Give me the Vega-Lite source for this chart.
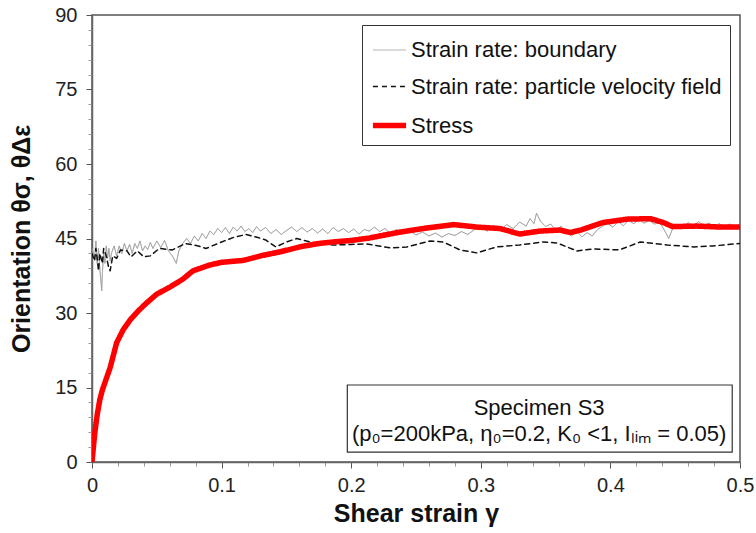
{
  "$schema": "https://vega.github.io/schema/vega-lite/v6.json",
  "width": 648,
  "height": 447,
  "autosize": {"type": "none"},
  "padding": {"left": 92, "top": 15, "right": 16, "bottom": 71},
  "background": "white",
  "config": {
    "font": "Liberation Sans",
    "view": {"stroke": "#555555", "strokeWidth": 1.5},
    "axis": {"grid": false, "domainColor": "#666666", "tickColor": "#777777", "labelColor": "#222222", "titleColor": "#111111"}
  },
  "datasets": {
    "series": [
      {"g": "Strain rate: boundary", "s": 0, "v": 43},
      {"g": "Strain rate: boundary", "s": 0.002, "v": 41},
      {"g": "Strain rate: boundary", "s": 0.003, "v": 44.5},
      {"g": "Strain rate: boundary", "s": 0.004, "v": 40},
      {"g": "Strain rate: boundary", "s": 0.005, "v": 43},
      {"g": "Strain rate: boundary", "s": 0.006, "v": 39},
      {"g": "Strain rate: boundary", "s": 0.007, "v": 36},
      {"g": "Strain rate: boundary", "s": 0.0075, "v": 34.5},
      {"g": "Strain rate: boundary", "s": 0.008, "v": 38},
      {"g": "Strain rate: boundary", "s": 0.009, "v": 42},
      {"g": "Strain rate: boundary", "s": 0.010, "v": 40},
      {"g": "Strain rate: boundary", "s": 0.011, "v": 43.5},
      {"g": "Strain rate: boundary", "s": 0.012, "v": 41},
      {"g": "Strain rate: boundary", "s": 0.013, "v": 43},
      {"g": "Strain rate: boundary", "s": 0.014, "v": 40.5},
      {"g": "Strain rate: boundary", "s": 0.015, "v": 42},
      {"g": "Strain rate: boundary", "s": 0.017, "v": 43.5},
      {"g": "Strain rate: boundary", "s": 0.019, "v": 41.5},
      {"g": "Strain rate: boundary", "s": 0.021, "v": 43.5},
      {"g": "Strain rate: boundary", "s": 0.023, "v": 42},
      {"g": "Strain rate: boundary", "s": 0.025, "v": 44},
      {"g": "Strain rate: boundary", "s": 0.027, "v": 42.5},
      {"g": "Strain rate: boundary", "s": 0.029, "v": 43.8},
      {"g": "Strain rate: boundary", "s": 0.031, "v": 42},
      {"g": "Strain rate: boundary", "s": 0.033, "v": 44},
      {"g": "Strain rate: boundary", "s": 0.035, "v": 43},
      {"g": "Strain rate: boundary", "s": 0.037, "v": 44.5},
      {"g": "Strain rate: boundary", "s": 0.039, "v": 42.5},
      {"g": "Strain rate: boundary", "s": 0.041, "v": 43.5},
      {"g": "Strain rate: boundary", "s": 0.043, "v": 42.8},
      {"g": "Strain rate: boundary", "s": 0.045, "v": 44.2},
      {"g": "Strain rate: boundary", "s": 0.047, "v": 43},
      {"g": "Strain rate: boundary", "s": 0.05, "v": 44.5},
      {"g": "Strain rate: boundary", "s": 0.053, "v": 43.2},
      {"g": "Strain rate: boundary", "s": 0.056, "v": 44.6},
      {"g": "Strain rate: boundary", "s": 0.059, "v": 42.5},
      {"g": "Strain rate: boundary", "s": 0.062, "v": 41.5},
      {"g": "Strain rate: boundary", "s": 0.065, "v": 40},
      {"g": "Strain rate: boundary", "s": 0.067, "v": 42.5},
      {"g": "Strain rate: boundary", "s": 0.07, "v": 44},
      {"g": "Strain rate: boundary", "s": 0.073, "v": 45},
      {"g": "Strain rate: boundary", "s": 0.076, "v": 44},
      {"g": "Strain rate: boundary", "s": 0.079, "v": 45.5},
      {"g": "Strain rate: boundary", "s": 0.082, "v": 44.5},
      {"g": "Strain rate: boundary", "s": 0.085, "v": 46},
      {"g": "Strain rate: boundary", "s": 0.088, "v": 45},
      {"g": "Strain rate: boundary", "s": 0.091, "v": 46.5},
      {"g": "Strain rate: boundary", "s": 0.094, "v": 45.8},
      {"g": "Strain rate: boundary", "s": 0.097, "v": 47},
      {"g": "Strain rate: boundary", "s": 0.1, "v": 46.2},
      {"g": "Strain rate: boundary", "s": 0.103, "v": 47.2},
      {"g": "Strain rate: boundary", "s": 0.106, "v": 46},
      {"g": "Strain rate: boundary", "s": 0.109, "v": 47.3},
      {"g": "Strain rate: boundary", "s": 0.112, "v": 46.5},
      {"g": "Strain rate: boundary", "s": 0.115, "v": 47.5},
      {"g": "Strain rate: boundary", "s": 0.118, "v": 46.4},
      {"g": "Strain rate: boundary", "s": 0.121, "v": 47},
      {"g": "Strain rate: boundary", "s": 0.124, "v": 46.2},
      {"g": "Strain rate: boundary", "s": 0.127, "v": 47.4},
      {"g": "Strain rate: boundary", "s": 0.13, "v": 46.5},
      {"g": "Strain rate: boundary", "s": 0.134, "v": 47.2},
      {"g": "Strain rate: boundary", "s": 0.138, "v": 46},
      {"g": "Strain rate: boundary", "s": 0.142, "v": 46.8},
      {"g": "Strain rate: boundary", "s": 0.146, "v": 45.8},
      {"g": "Strain rate: boundary", "s": 0.15, "v": 46.6},
      {"g": "Strain rate: boundary", "s": 0.154, "v": 47.3},
      {"g": "Strain rate: boundary", "s": 0.158, "v": 46.4},
      {"g": "Strain rate: boundary", "s": 0.162, "v": 47.2},
      {"g": "Strain rate: boundary", "s": 0.166, "v": 46.3},
      {"g": "Strain rate: boundary", "s": 0.17, "v": 47},
      {"g": "Strain rate: boundary", "s": 0.174, "v": 46.1},
      {"g": "Strain rate: boundary", "s": 0.178, "v": 46.9},
      {"g": "Strain rate: boundary", "s": 0.182, "v": 46},
      {"g": "Strain rate: boundary", "s": 0.186, "v": 47.2},
      {"g": "Strain rate: boundary", "s": 0.19, "v": 46.4},
      {"g": "Strain rate: boundary", "s": 0.194, "v": 47},
      {"g": "Strain rate: boundary", "s": 0.198, "v": 46.2},
      {"g": "Strain rate: boundary", "s": 0.202, "v": 46.9},
      {"g": "Strain rate: boundary", "s": 0.206, "v": 45.9},
      {"g": "Strain rate: boundary", "s": 0.21, "v": 46.8},
      {"g": "Strain rate: boundary", "s": 0.214, "v": 46.5},
      {"g": "Strain rate: boundary", "s": 0.218, "v": 47.3},
      {"g": "Strain rate: boundary", "s": 0.222, "v": 46.4},
      {"g": "Strain rate: boundary", "s": 0.226, "v": 47},
      {"g": "Strain rate: boundary", "s": 0.23, "v": 46.1},
      {"g": "Strain rate: boundary", "s": 0.235, "v": 46.8},
      {"g": "Strain rate: boundary", "s": 0.24, "v": 46},
      {"g": "Strain rate: boundary", "s": 0.245, "v": 46.6},
      {"g": "Strain rate: boundary", "s": 0.25, "v": 45.7},
      {"g": "Strain rate: boundary", "s": 0.255, "v": 46.3},
      {"g": "Strain rate: boundary", "s": 0.26, "v": 45.5},
      {"g": "Strain rate: boundary", "s": 0.265, "v": 46.1},
      {"g": "Strain rate: boundary", "s": 0.27, "v": 45.3},
      {"g": "Strain rate: boundary", "s": 0.275, "v": 46},
      {"g": "Strain rate: boundary", "s": 0.28, "v": 45.6},
      {"g": "Strain rate: boundary", "s": 0.285, "v": 46.4},
      {"g": "Strain rate: boundary", "s": 0.29, "v": 45.8},
      {"g": "Strain rate: boundary", "s": 0.295, "v": 46.8},
      {"g": "Strain rate: boundary", "s": 0.3, "v": 47.2},
      {"g": "Strain rate: boundary", "s": 0.305, "v": 46.5},
      {"g": "Strain rate: boundary", "s": 0.31, "v": 47.6},
      {"g": "Strain rate: boundary", "s": 0.315, "v": 46.8},
      {"g": "Strain rate: boundary", "s": 0.32, "v": 47.8},
      {"g": "Strain rate: boundary", "s": 0.325, "v": 47},
      {"g": "Strain rate: boundary", "s": 0.33, "v": 48.3},
      {"g": "Strain rate: boundary", "s": 0.335, "v": 47.5},
      {"g": "Strain rate: boundary", "s": 0.338, "v": 49},
      {"g": "Strain rate: boundary", "s": 0.341, "v": 48},
      {"g": "Strain rate: boundary", "s": 0.343, "v": 50.1},
      {"g": "Strain rate: boundary", "s": 0.346, "v": 48.5},
      {"g": "Strain rate: boundary", "s": 0.35, "v": 47.4},
      {"g": "Strain rate: boundary", "s": 0.354, "v": 47.9},
      {"g": "Strain rate: boundary", "s": 0.358, "v": 46.5},
      {"g": "Strain rate: boundary", "s": 0.362, "v": 47.5},
      {"g": "Strain rate: boundary", "s": 0.366, "v": 46.3},
      {"g": "Strain rate: boundary", "s": 0.37, "v": 45.5},
      {"g": "Strain rate: boundary", "s": 0.374, "v": 46.5},
      {"g": "Strain rate: boundary", "s": 0.378, "v": 45.3},
      {"g": "Strain rate: boundary", "s": 0.382, "v": 46.2},
      {"g": "Strain rate: boundary", "s": 0.386, "v": 45.5},
      {"g": "Strain rate: boundary", "s": 0.39, "v": 46.8},
      {"g": "Strain rate: boundary", "s": 0.394, "v": 47.5},
      {"g": "Strain rate: boundary", "s": 0.398, "v": 48},
      {"g": "Strain rate: boundary", "s": 0.402, "v": 47.3},
      {"g": "Strain rate: boundary", "s": 0.406, "v": 48.4},
      {"g": "Strain rate: boundary", "s": 0.41, "v": 47.6},
      {"g": "Strain rate: boundary", "s": 0.414, "v": 48.6},
      {"g": "Strain rate: boundary", "s": 0.418, "v": 48},
      {"g": "Strain rate: boundary", "s": 0.422, "v": 48.8},
      {"g": "Strain rate: boundary", "s": 0.426, "v": 48.1},
      {"g": "Strain rate: boundary", "s": 0.43, "v": 48.6},
      {"g": "Strain rate: boundary", "s": 0.434, "v": 47.9},
      {"g": "Strain rate: boundary", "s": 0.438, "v": 48.3},
      {"g": "Strain rate: boundary", "s": 0.442, "v": 46.5},
      {"g": "Strain rate: boundary", "s": 0.445, "v": 45},
      {"g": "Strain rate: boundary", "s": 0.448, "v": 47},
      {"g": "Strain rate: boundary", "s": 0.452, "v": 47.8},
      {"g": "Strain rate: boundary", "s": 0.456, "v": 47.3},
      {"g": "Strain rate: boundary", "s": 0.46, "v": 48.2},
      {"g": "Strain rate: boundary", "s": 0.464, "v": 47.5},
      {"g": "Strain rate: boundary", "s": 0.468, "v": 48.4},
      {"g": "Strain rate: boundary", "s": 0.472, "v": 47.6},
      {"g": "Strain rate: boundary", "s": 0.476, "v": 48.1},
      {"g": "Strain rate: boundary", "s": 0.48, "v": 47.4},
      {"g": "Strain rate: boundary", "s": 0.484, "v": 48},
      {"g": "Strain rate: boundary", "s": 0.488, "v": 47.3},
      {"g": "Strain rate: boundary", "s": 0.492, "v": 47.9},
      {"g": "Strain rate: boundary", "s": 0.496, "v": 47.5},
      {"g": "Strain rate: boundary", "s": 0.5, "v": 47.8},

      {"g": "Strain rate: particle velocity field", "s": 0, "v": 42},
      {"g": "Strain rate: particle velocity field", "s": 0.002, "v": 40.5},
      {"g": "Strain rate: particle velocity field", "s": 0.003, "v": 43},
      {"g": "Strain rate: particle velocity field", "s": 0.004, "v": 41},
      {"g": "Strain rate: particle velocity field", "s": 0.005, "v": 38.5},
      {"g": "Strain rate: particle velocity field", "s": 0.006, "v": 42},
      {"g": "Strain rate: particle velocity field", "s": 0.008, "v": 40},
      {"g": "Strain rate: particle velocity field", "s": 0.009, "v": 43},
      {"g": "Strain rate: particle velocity field", "s": 0.011, "v": 41.5},
      {"g": "Strain rate: particle velocity field", "s": 0.013, "v": 39},
      {"g": "Strain rate: particle velocity field", "s": 0.014, "v": 38.5},
      {"g": "Strain rate: particle velocity field", "s": 0.016, "v": 41.5},
      {"g": "Strain rate: particle velocity field", "s": 0.019, "v": 41},
      {"g": "Strain rate: particle velocity field", "s": 0.022, "v": 42.7},
      {"g": "Strain rate: particle velocity field", "s": 0.027, "v": 42.5},
      {"g": "Strain rate: particle velocity field", "s": 0.03, "v": 41.3},
      {"g": "Strain rate: particle velocity field", "s": 0.035, "v": 42.5},
      {"g": "Strain rate: particle velocity field", "s": 0.04, "v": 41.3},
      {"g": "Strain rate: particle velocity field", "s": 0.045, "v": 41.5},
      {"g": "Strain rate: particle velocity field", "s": 0.052, "v": 43},
      {"g": "Strain rate: particle velocity field", "s": 0.062, "v": 42.7},
      {"g": "Strain rate: particle velocity field", "s": 0.072, "v": 44},
      {"g": "Strain rate: particle velocity field", "s": 0.082, "v": 43.5},
      {"g": "Strain rate: particle velocity field", "s": 0.088, "v": 43},
      {"g": "Strain rate: particle velocity field", "s": 0.1, "v": 44.3},
      {"g": "Strain rate: particle velocity field", "s": 0.11, "v": 45.3},
      {"g": "Strain rate: particle velocity field", "s": 0.119, "v": 45.8},
      {"g": "Strain rate: particle velocity field", "s": 0.128, "v": 45.2},
      {"g": "Strain rate: particle velocity field", "s": 0.134, "v": 44.7},
      {"g": "Strain rate: particle velocity field", "s": 0.142, "v": 43.3},
      {"g": "Strain rate: particle velocity field", "s": 0.15, "v": 44.3},
      {"g": "Strain rate: particle velocity field", "s": 0.158, "v": 45},
      {"g": "Strain rate: particle velocity field", "s": 0.168, "v": 44.3},
      {"g": "Strain rate: particle velocity field", "s": 0.186, "v": 43.7},
      {"g": "Strain rate: particle velocity field", "s": 0.2, "v": 43.8},
      {"g": "Strain rate: particle velocity field", "s": 0.212, "v": 43.9},
      {"g": "Strain rate: particle velocity field", "s": 0.23, "v": 43.1},
      {"g": "Strain rate: particle velocity field", "s": 0.243, "v": 43.3},
      {"g": "Strain rate: particle velocity field", "s": 0.261, "v": 44.5},
      {"g": "Strain rate: particle velocity field", "s": 0.271, "v": 44.3},
      {"g": "Strain rate: particle velocity field", "s": 0.284, "v": 42.7},
      {"g": "Strain rate: particle velocity field", "s": 0.297, "v": 42.1},
      {"g": "Strain rate: particle velocity field", "s": 0.312, "v": 43.3},
      {"g": "Strain rate: particle velocity field", "s": 0.33, "v": 43.7},
      {"g": "Strain rate: particle velocity field", "s": 0.348, "v": 44.3},
      {"g": "Strain rate: particle velocity field", "s": 0.359, "v": 44.1},
      {"g": "Strain rate: particle velocity field", "s": 0.374, "v": 42.5},
      {"g": "Strain rate: particle velocity field", "s": 0.387, "v": 42.9},
      {"g": "Strain rate: particle velocity field", "s": 0.407, "v": 42.7},
      {"g": "Strain rate: particle velocity field", "s": 0.423, "v": 44.3},
      {"g": "Strain rate: particle velocity field", "s": 0.444, "v": 43.7},
      {"g": "Strain rate: particle velocity field", "s": 0.464, "v": 43.3},
      {"g": "Strain rate: particle velocity field", "s": 0.479, "v": 43.5},
      {"g": "Strain rate: particle velocity field", "s": 0.5, "v": 44},

      {"g": "Stress", "s": 0, "v": 0},
      {"g": "Stress", "s": 0.002, "v": 5.5},
      {"g": "Stress", "s": 0.004, "v": 9.5},
      {"g": "Stress", "s": 0.006, "v": 12.5},
      {"g": "Stress", "s": 0.008, "v": 14.5},
      {"g": "Stress", "s": 0.01, "v": 16},
      {"g": "Stress", "s": 0.014, "v": 19},
      {"g": "Stress", "s": 0.019, "v": 24},
      {"g": "Stress", "s": 0.024, "v": 26.6},
      {"g": "Stress", "s": 0.03, "v": 28.8},
      {"g": "Stress", "s": 0.036, "v": 30.5},
      {"g": "Stress", "s": 0.042, "v": 32},
      {"g": "Stress", "s": 0.05, "v": 33.8},
      {"g": "Stress", "s": 0.06, "v": 35.2},
      {"g": "Stress", "s": 0.07, "v": 36.8},
      {"g": "Stress", "s": 0.078, "v": 38.5},
      {"g": "Stress", "s": 0.09, "v": 39.6},
      {"g": "Stress", "s": 0.1, "v": 40.2},
      {"g": "Stress", "s": 0.117, "v": 40.6},
      {"g": "Stress", "s": 0.13, "v": 41.5},
      {"g": "Stress", "s": 0.145, "v": 42.3},
      {"g": "Stress", "s": 0.16, "v": 43.3},
      {"g": "Stress", "s": 0.175, "v": 44},
      {"g": "Stress", "s": 0.19, "v": 44.4},
      {"g": "Stress", "s": 0.2, "v": 44.6},
      {"g": "Stress", "s": 0.214, "v": 45.1},
      {"g": "Stress", "s": 0.238, "v": 46.3},
      {"g": "Stress", "s": 0.258, "v": 47.1},
      {"g": "Stress", "s": 0.279, "v": 47.8},
      {"g": "Stress", "s": 0.297, "v": 47.3},
      {"g": "Stress", "s": 0.315, "v": 47.0},
      {"g": "Stress", "s": 0.33, "v": 45.9},
      {"g": "Stress", "s": 0.346, "v": 46.5},
      {"g": "Stress", "s": 0.361, "v": 46.7},
      {"g": "Stress", "s": 0.369, "v": 46.2},
      {"g": "Stress", "s": 0.377, "v": 46.7},
      {"g": "Stress", "s": 0.394, "v": 48.2},
      {"g": "Stress", "s": 0.413, "v": 48.9},
      {"g": "Stress", "s": 0.431, "v": 49.0},
      {"g": "Stress", "s": 0.441, "v": 48.2},
      {"g": "Stress", "s": 0.448, "v": 47.4},
      {"g": "Stress", "s": 0.467, "v": 47.5},
      {"g": "Stress", "s": 0.485, "v": 47.3},
      {"g": "Stress", "s": 0.5, "v": 47.3}
    ],
    "note": [
      {"line": "Specimen S3", "s": 0.345, "v": 10.9},
      {"line": "(p₀=200kPa, η₀=0.2, K₀ <1, Iₗᵢₘ = 0.05)", "s": 0.345, "v": 5.6}
    ]
  },
  "layer": [
    {
      "data": {"name": "series"},
      "mark": {"type": "line", "clip": true, "strokeCap": "round", "strokeJoin": "round"},
      "encoding": {
        "x": {
          "field": "s", "type": "quantitative",
          "scale": {"domain": [0, 0.5], "nice": false, "zero": false},
          "axis": {
            "orient": "bottom",
            "values": [0, 0.02, 0.04, 0.06, 0.08, 0.1, 0.12, 0.14, 0.16, 0.18, 0.2, 0.22, 0.24, 0.26, 0.28, 0.3, 0.32, 0.34, 0.36, 0.38, 0.4, 0.42, 0.44, 0.46, 0.48, 0.5],
            "tickCount": 200,
            "labelExpr": "round(datum.value * 100) % 10 === 0 ? format(datum.value, '~g') : ''",
            "tickSize": {"condition": {"test": "round(datum.value * 100) % 10 === 0", "value": 6}, "value": 4},
            "tickColor": {"condition": {"test": "round(datum.value * 100) % 10 === 0", "value": "#555555"}, "value": "#9a9a9a"},
            "labelOverlap": false,
            "labelFlush": false,
            "labelBound": false,
            "title": "Shear strain γ",
            "titleFontSize": 25, "titleFontWeight": "bold", "titlePadding": 6,
            "labelFontSize": 20, "labelPadding": 7,
            "domainWidth": 1.5
          }
        },
        "y": {
          "field": "v", "type": "quantitative",
          "scale": {"domain": [0, 90], "nice": false},
          "axis": {
            "orient": "left",
            "values": [0, 3, 6, 9, 12, 15, 18, 21, 24, 27, 30, 33, 36, 39, 42, 45, 48, 51, 54, 57, 60, 63, 66, 69, 72, 75, 78, 81, 84, 87, 90],
            "tickCount": 200,
            "labelExpr": "datum.value % 15 === 0 ? format(datum.value, 'd') : ''",
            "tickSize": {"condition": {"test": "datum.value % 15 === 0", "value": 6}, "value": 4},
            "tickColor": {"condition": {"test": "datum.value % 15 === 0", "value": "#555555"}, "value": "#9a9a9a"},
            "labelOverlap": false,
            "labelFlush": false,
            "labelBound": false,
            "title": "Orientation   θσ, θΔε",
            "titleFontSize": 25, "titleFontWeight": "bold", "titlePadding": 20,
            "labelFontSize": 20, "labelPadding": 9,
            "domainWidth": 1.5
          }
        },
        "color": {
          "field": "g", "type": "ordinal",
          "scale": {"domain": ["Strain rate: boundary", "Strain rate: particle velocity field", "Stress"], "range": ["#a0a0a0", "#111111", "#ff0000"]},
          "legend": {
            "title": null,
            "orient": "top-right",
            "offset": 10,
            "strokeColor": "#333333",
            "fillColor": "white",
            "padding": 8,
            "labelFontSize": 22,
            "labelColor": "#111111",
            "labelOffset": 2,
            "labelLimit": 500,
            "symbolType": "stroke",
            "symbolSize": 1100,
            "rowPadding": 8
          }
        },
        "strokeDash": {
          "field": "g", "type": "ordinal",
          "scale": {"domain": ["Strain rate: boundary", "Strain rate: particle velocity field", "Stress"], "range": [[1, 0], [5, 4], [1, 0]]},
          "legend": {"title": null}
        },
        "strokeWidth": {
          "field": "g", "type": "ordinal",
          "scale": {"type": "ordinal", "domain": ["Strain rate: boundary", "Strain rate: particle velocity field", "Stress"], "range": [0.8, 1.5, 5.5]},
          "legend": {"title": null}
        }
      }
    },
    {
      "data": {"values": [{}]},
      "mark": {"type": "rect", "fill": "white", "stroke": "#333333", "strokeWidth": 1.2},
      "encoding": {
        "x": {"datum": 0.197, "type": "quantitative"},
        "x2": {"datum": 0.494},
        "y": {"datum": 2.0, "type": "quantitative"},
        "y2": {"datum": 15.5}
      }
    },
    {
      "data": {"name": "note"},
      "mark": {"type": "text", "fontSize": 22, "color": "#111111", "align": "center", "baseline": "middle"},
      "encoding": {
        "x": {"field": "s", "type": "quantitative"},
        "y": {"field": "v", "type": "quantitative"},
        "text": {"field": "line"}
      }
    }
  ]
}
